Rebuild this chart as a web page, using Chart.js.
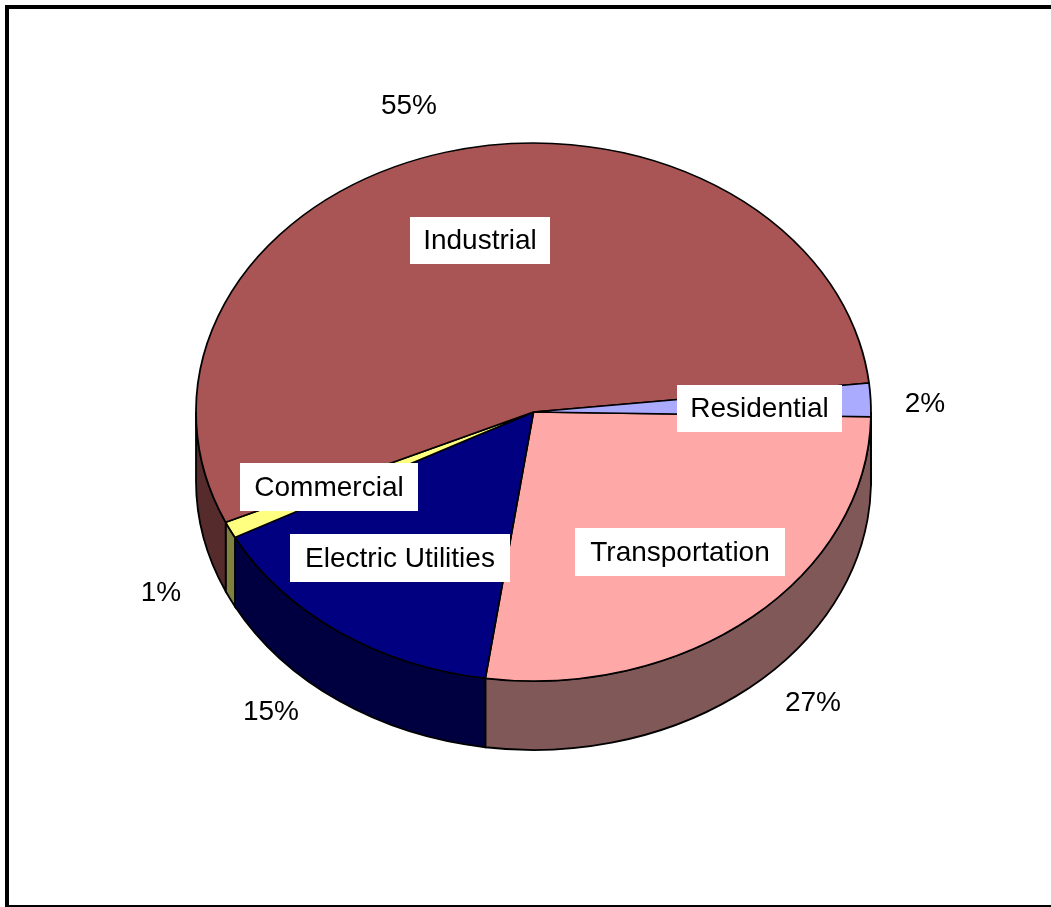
<!DOCTYPE html>
<html>
<head>
<meta charset="utf-8">
<title>Share by source</title>
<style>
  html,body{margin:0;padding:0;background:#fff;overflow:hidden}
  canvas{display:block}
</style>
<script src="https://cdn.jsdelivr.net/npm/chart.js@4/dist/chart.umd.min.js"></script>
</head>
<body>
<canvas id="pie" width="1051" height="907"></canvas>
<script>
const categories = ["Transportation", "Electric Utilities", "Commercial", "Industrial", "Residential"];
const shares = [27, 15, 1, 55, 2];
const topColors = ["#FFA8A8", "#000080", "#FFFF80", "#AA5555", "#AAAAFF"];
const sideColors = ["#805858", "#000040", "#808040", "#552B2B", "#555580"];

// flattening of the disc and height of its rim
const squash = 269 / 337.5;
const depth = 69;
const FONT = "28px 'Liberation Sans', Arial, sans-serif";

// white name boxes: left, top, right, bottom
const nameBoxes = [
  [575, 528, 785, 576],
  [290, 534, 510, 582],
  [240, 463, 418, 511],
  [410, 217, 550, 264],
  [677, 385, 842, 432]
];
// percent labels: centre x, centre y
const percentSpots = [[813, 703], [271, 712], [161, 593], [409, 106], [925, 404]];

function drawRim(c, arc, a0, a1, color){
  const rx = arc.outerRadius, ry = rx * squash;
  c.beginPath();
  c.ellipse(arc.x, arc.y, rx, ry, 0, a0, a1);
  c.ellipse(arc.x, arc.y + depth, rx, ry, 0, a1, a0, true);
  c.closePath();
  c.fillStyle = color;
  c.fill();
  c.strokeStyle = "#000";
  c.lineWidth = 1.8;
  c.stroke();
}

const discPlugin = {
  id: "disc",
  beforeDraw(chart){
    const c = chart.ctx;
    c.save();
    c.fillStyle = "#fff";
    c.fillRect(0, 0, chart.width, chart.height);
    c.fillStyle = "#000";
    c.fillRect(5, 5, chart.width - 5, 4);
    c.fillRect(5, 5, 4, chart.height - 5);
    c.fillRect(5, 905, chart.width - 5, 2);
    c.restore();
  },
  beforeDatasetsDraw(chart){
    const c = chart.ctx;
    const arcs = chart.getDatasetMeta(0).data;
    // rim first, only the part of each slice on the near half of the disc;
    // the last slice runs past a full turn, so it is tried one turn back too
    arcs.forEach((arc, i) => {
      [0, -2 * Math.PI].forEach(turn => {
        const a0 = Math.max(arc.startAngle + turn, 0);
        const a1 = Math.min(arc.endAngle + turn, Math.PI);
        if(a1 > a0) drawRim(c, arc, a0, a1, sideColors[i]);
      });
    });
    // the slices themselves go through the same squash
    const first = arcs[0];
    c.save();
    c.translate(first.x, first.y);
    c.scale(1, squash);
    c.translate(-first.x, -first.y);
  },
  afterDatasetsDraw(chart){
    chart.ctx.restore();
  },
  afterDraw(chart){
    const c = chart.ctx;
    c.save();
    c.font = FONT;
    c.textBaseline = "middle";
    c.textAlign = "center";
    categories.forEach((name, i) => {
      const b = nameBoxes[i];
      c.fillStyle = "#fff";
      c.fillRect(b[0], b[1], b[2] - b[0], b[3] - b[1]);
      c.fillStyle = "#000";
      c.fillText(name, (b[0] + b[2]) / 2, (b[1] + b[3]) / 2 + 1);
      c.fillText(shares[i] + "%", percentSpots[i][0], percentSpots[i][1]);
    });
    c.restore();
  }
};

new Chart(document.getElementById("pie"), {
  type: "pie",
  data: {
    labels: categories,
    datasets: [{
      data: shares,
      backgroundColor: topColors,
      borderColor: "#000",
      borderWidth: 1.8,
      clip: false
    }]
  },
  options: {
    responsive: false,
    animation: false,
    rotation: 91,
    radius: 337.5,
    layout: {padding: {left: 16, right: 0, top: 0, bottom: 83}},
    plugins: {legend: {display: false}, tooltip: {enabled: false}}
  },
  plugins: [discPlugin]
});
</script>
</body>
</html>
